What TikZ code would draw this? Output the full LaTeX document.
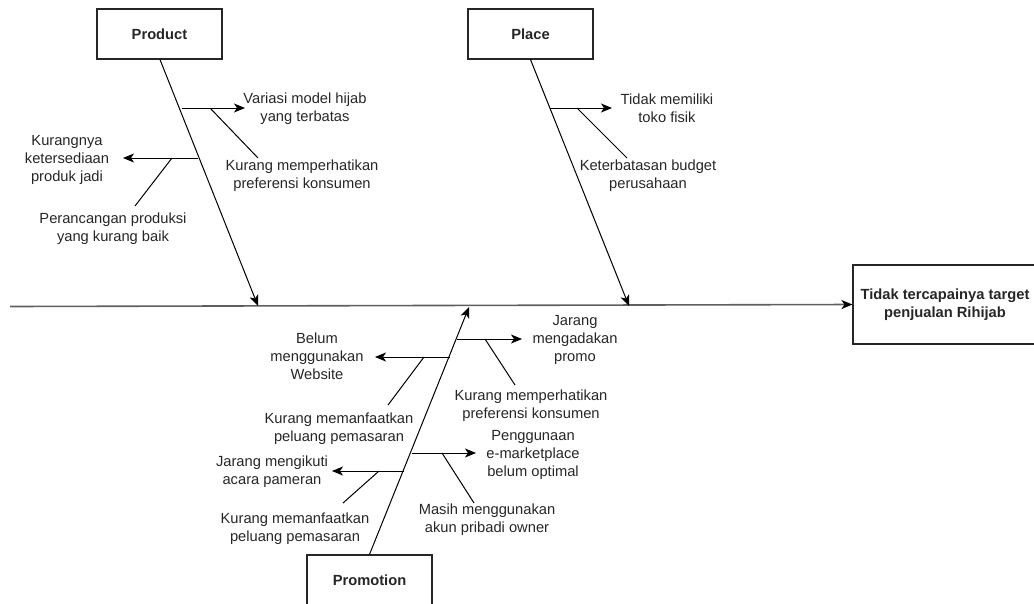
\documentclass[tikz,border=0pt]{standalone}
\usepackage{fontspec}
\setmainfont{Liberation Sans}
\usetikzlibrary{arrows.meta}
\definecolor{spinegray}{HTML}{5F5F5F}
\definecolor{txt}{HTML}{262626}
\tikzset{
  catbox/.style={draw=black!85, line width=1.1pt, minimum width=125pt, minimum height=50pt, inner sep=0pt, font=\fontsize{14.7}{18}\selectfont\bfseries, text=txt},
  effbox/.style={draw=black!85, line width=1.1pt, minimum width=184pt, minimum height=79pt, inner sep=0pt, align=center, font=\fontsize{14.7}{18}\selectfont\bfseries, text=txt},
  lbl/.style={align=center, inner sep=0pt, font=\fontsize{14.7}{18}\selectfont, text=txt},
  bone/.style={draw=black, line width=1pt},
  arr/.style={bone, -{Stealth[length=11pt,width=9pt,inset=3pt]}},
  spine/.style={draw=spinegray, line width=1.6pt, -{Stealth[length=11pt,width=9pt,inset=3pt,color=black]}}
}
\begin{document}
\begin{tikzpicture}[x=1pt,y=-1pt]
\useasboundingbox (0,0) rectangle (1034,603);
\clip (0,0) rectangle (1034,603);
% boxes
\node[catbox] (prod) at (159.5,34) {Product};
\node[catbox] (place) at (530.5,34) {Place};
\node[catbox] (promo) at (369.5,580) {Promotion};
\node[effbox] (effect) at (945,304.5) {Tidak tercapainya target\\penjualan Rihijab};
% spine
\coordinate (spineL) at (10,306.5);
\draw[spine] (spineL) -- (effect.west);
% main bones
\coordinate (prodTip) at (258,306);
\coordinate (placeTip) at (629,306);
\coordinate (promoTip) at (469,307);
\draw[arr] (prod.south -| 160,0) -- (prodTip);
\draw[arr] (place.south) -- (placeTip);
\draw[arr] (promo.north) -- (promoTip);
% labels
\node[lbl] (t1) at (305,109) {Variasi model hijab\\yang terbatas};
\node[lbl] (t2) at (302,175.5) {Kurang memperhatikan\\preferensi konsumen};
\node[lbl] (t3) at (67,159.5) {Kurangnya\\ketersediaan\\produk jadi};
\node[lbl] (t4) at (113,229) {Perancangan produksi\\yang kurang baik};
\node[lbl] (t5) at (667,108.5) {Tidak memiliki\\toko fisik};
\node[lbl] (t6) at (648,176) {Keterbatasan budget\\perusahaan};
\node[lbl] (t7) at (575,340) {Jarang\\mengadakan\\promo};
\node[lbl] (t8) at (531,406) {Kurang memperhatikan\\preferensi konsumen};
\node[lbl] (t9) at (317,356) {Belum\\menggunakan\\Website};
\node[lbl] (t10) at (339,428.5) {Kurang memanfaatkan\\peluang pemasaran};
\node[lbl] (t11) at (533,455) {Penggunaan\\e-marketplace\\belum optimal};
\node[lbl] (t12) at (487,519.5) {Masih menggunakan\\akun pribadi owner};
\node[lbl] (t13) at (272,472) {Jarang mengikuti\\acara pameran};
\node[lbl] (t14) at (295,529) {Kurang memanfaatkan\\peluang pemasaran};
% Product sub-bones
\coordinate (p1a) at (182,108); \coordinate (p1b) at (245,108);
\coordinate (p1c) at (210,108); \coordinate (p1d) at (258,158);
\draw[arr] (p1a) -- (p1b);
\draw[bone] (p1c) -- (p1d);
\coordinate (p2a) at (198,158); \coordinate (p2b) at (123,158);
\coordinate (p2c) at (172,158); \coordinate (p2d) at (135,206);
\draw[arr] (p2a) -- (p2b);
\draw[bone] (p2c) -- (p2d);
% Place sub-bone
\coordinate (q1a) at (550,108); \coordinate (q1b) at (612,108);
\coordinate (q1c) at (577,108); \coordinate (q1d) at (627,158);
\draw[arr] (q1a) -- (q1b);
\draw[bone] (q1c) -- (q1d);
% Promotion sub-bones
\coordinate (r1a) at (457,339); \coordinate (r1b) at (522,339);
\coordinate (r1c) at (485,339); \coordinate (r1d) at (515,385);
\draw[arr] (r1a) -- (r1b);
\draw[bone] (r1c) -- (r1d);
\coordinate (r2a) at (450,357); \coordinate (r2b) at (375,357);
\coordinate (r2c) at (424,357); \coordinate (r2d) at (388,405);
\draw[arr] (r2a) -- (r2b);
\draw[bone] (r2c) -- (r2d);
\coordinate (r3a) at (412,453); \coordinate (r3b) at (476,453);
\coordinate (r3c) at (442,453); \coordinate (r3d) at (474,503);
\draw[arr] (r3a) -- (r3b);
\draw[bone] (r3c) -- (r3d);
\coordinate (r4a) at (404,471); \coordinate (r4b) at (332,471);
\coordinate (r4c) at (379,471); \coordinate (r4d) at (343,503);
\draw[arr] (r4a) -- (r4b);
\draw[bone] (r4c) -- (r4d);
\end{tikzpicture}
\end{document}
